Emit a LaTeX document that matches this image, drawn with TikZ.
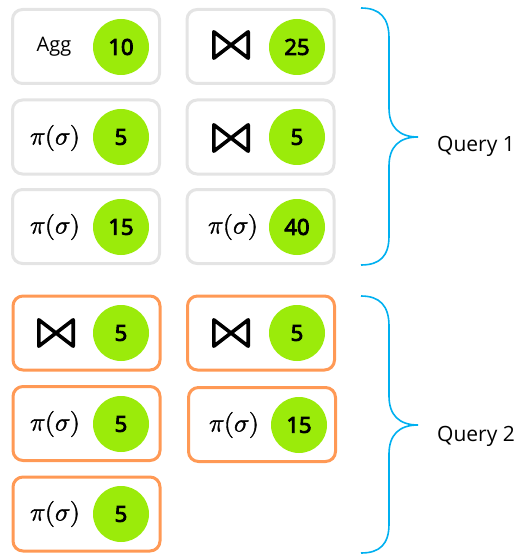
\documentclass[tikz,border=0pt]{standalone}
\usepackage{fontspec}
\setmainfont{Open Sans}
\newfontfamily\costfont{Open Sans}[FakeBold=4]
\newfontface\opfont{Latin Modern Math}[FakeBold=1.5]
\definecolor{boxgray}{RGB}{228,228,228}
\definecolor{boxorange}{RGB}{255,153,85}
\definecolor{limeball}{RGB}{155,235,10}
\definecolor{bracecyan}{RGB}{0,176,240}
\begin{document}
\begin{tikzpicture}[x=1pt,y=-1pt,
  opbox/.style={rectangle, rounded corners=10pt, line width=3pt, fill=white,
    minimum width=147pt, minimum height=74pt, inner sep=0pt},
  q1/.style={opbox, draw=boxgray},
  q2/.style={opbox, draw=boxorange},
  cost/.style={circle, fill=limeball, minimum size=56pt, inner sep=0pt,
    font=\fontsize{22}{26}\costfont},
  oplabel/.style={inner sep=0pt, font=\fontsize{26}{30}\opfont},
  agglabel/.style={inner sep=0pt, font=\fontsize{20}{24}\selectfont},
  joinsym/.style={inner sep=0pt, minimum width=34pt, minimum height=26pt},
  joinstroke/.style={line width=3.6pt, line join=round},
  bracestroke/.style={draw=bracecyan, line width=1.6pt},
  qlabel/.style={anchor=west, inner sep=0pt, font=\fontsize{21}{25}\selectfont}
]
\useasboundingbox (0,0) rectangle (526,556);

% ---------- Query 1 ----------
\node[q1] (a1) at (86,46.5) {};
\node[agglabel] (a1l) at (54,47) {Agg};
\node[cost] (a1c) at (121,47) {10};

\node[q1] (b1) at (260.5,46.5) {};
\node[joinsym] (b1l) at (231,45) {};
\node[cost] (b1c) at (297,47) {25};

\node[q1] (a2) at (86,137) {};
\node[oplabel] (a2l) at (55,138) {𝜋(𝜎)};
\node[cost] (a2c) at (121,137) {5};

\node[q1] (b2) at (260.5,137) {};
\node[joinsym] (b2l) at (231,138) {};
\node[cost] (b2c) at (297,137) {5};

\node[q1] (a3) at (86,226.5) {};
\node[oplabel] (a3l) at (55,227) {𝜋(𝜎)};
\node[cost] (a3c) at (121,227) {15};

\node[q1] (b3) at (260.5,226.5) {};
\node[oplabel] (b3l) at (233,227) {𝜋(𝜎)};
\node[cost] (b3c) at (297,227) {40};

% ---------- Query 2 ----------
\node[q2] (c1) at (86.5,333) {};
\node[joinsym] (c1l) at (56,333) {};
\node[cost] (c1c) at (121,333) {5};

\node[q2] (d1) at (261,333) {};
\node[joinsym] (d1l) at (231,333) {};
\node[cost] (d1c) at (297,333) {5};

\node[q2] (c2) at (86.5,423.5) {};
\node[oplabel] (c2l) at (55,424) {𝜋(𝜎)};
\node[cost] (c2c) at (121,424) {5};

\node[q2] (d2) at (262,424.5) {};
\node[oplabel] (d2l) at (234,425) {𝜋(𝜎)};
\node[cost] (d2c) at (299,425) {15};

\node[q2] (c3) at (86.5,514) {};
\node[oplabel] (c3l) at (55,514) {𝜋(𝜎)};
\node[cost] (c3c) at (121,514) {5};

% join (bowtie) symbols
\foreach \j in {b1l,b2l,c1l,d1l}{
  \draw[joinstroke] (\j.north west) -- (\j.south west) -- (\j.north east)
    -- (\j.south east) -- cycle;
}

% ---------- braces ----------
\draw[bracestroke] (361,8) .. controls (380,8) and (389,18) .. (389,38)
  -- (389,108) .. controls (389,127) and (399,137) .. (418,137)
  .. controls (399,137) and (389,147) .. (389,166)
  -- (389,236) .. controls (389,256) and (380,265) .. (361,265);
\node[qlabel] (q1l) at (437,146) {Query 1};

\draw[bracestroke] (361,296) .. controls (380,296) and (389,306) .. (389,326)
  -- (389,396) .. controls (389,415) and (399,425) .. (418,425)
  .. controls (399,425) and (389,435) .. (389,454)
  -- (389,524) .. controls (389,544) and (380,553) .. (361,553);
\node[qlabel] (q2l) at (437,436) {Query 2};
\end{tikzpicture}
\end{document}
